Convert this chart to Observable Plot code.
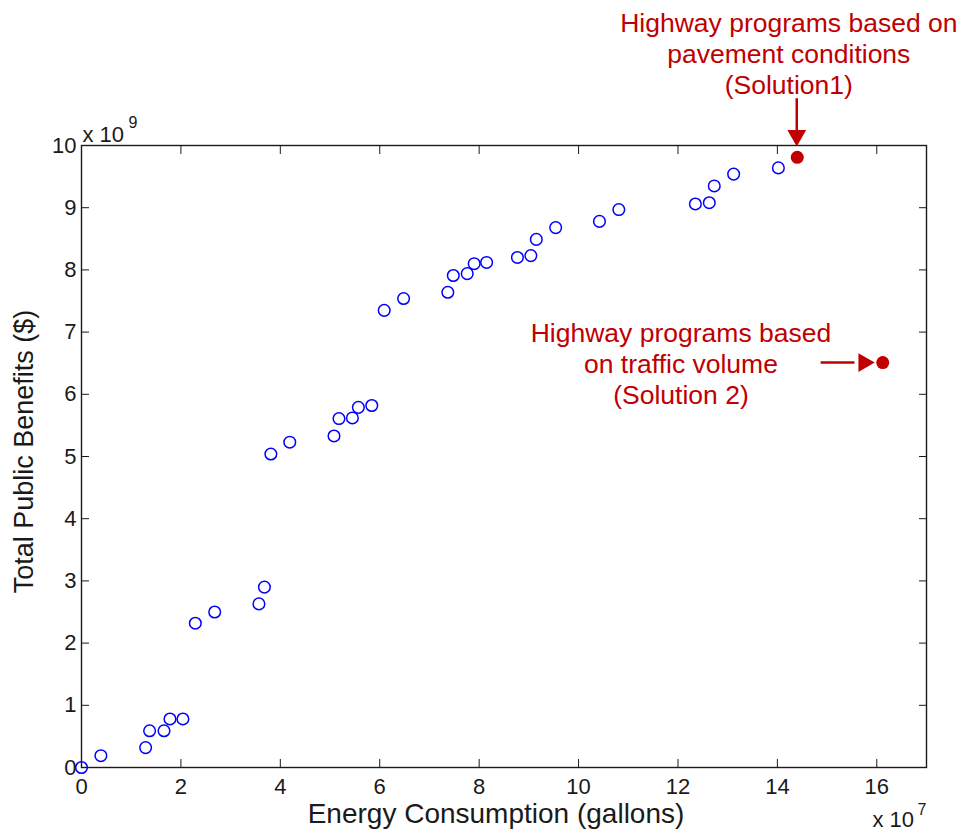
<!DOCTYPE html>
<html><head><meta charset="utf-8">
<script src="https://cdn.jsdelivr.net/npm/d3@7"></script>
<script src="https://cdn.jsdelivr.net/npm/@observablehq/plot@0.6"></script>
<style>body{margin:0;background:#fff} svg{display:block}</style>
</head><body><div id="chart"></div>
<script>
// Energy consumption (x 10^7 gallons) and total public benefits (x 10^9 $)
const energy = [0, 0.39, 1.29, 1.37, 1.66, 1.78, 2.04, 2.29, 2.68, 3.57, 3.68, 3.81, 4.19, 5.08, 5.18, 5.45, 5.57, 5.84, 6.09, 6.48, 7.37, 7.48, 7.76, 7.90, 8.15, 8.77, 9.04, 9.15, 9.54, 10.42, 10.81, 12.35, 12.63, 12.73, 13.12, 14.02];
const benefits = [0, 0.19, 0.32, 0.59, 0.59, 0.78, 0.78, 2.32, 2.50, 2.63, 2.90, 5.04, 5.23, 5.33, 5.61, 5.62, 5.79, 5.82, 7.35, 7.54, 7.64, 7.91, 7.94, 8.10, 8.12, 8.20, 8.23, 8.49, 8.68, 8.78, 8.97, 9.06, 9.08, 9.35, 9.54, 9.64];

const solutionNames = ["Solution1", "Solution 2"];
const solutionEnergy = [14.40, 16.12];
const solutionBenefits = [9.81, 6.51];

const annotationTexts = [
  "Highway programs based on\npavement conditions\n(Solution1)",
  "Highway programs based\non traffic volume\n(Solution 2)"
];
const annotationX = [14.23, 12.06];
const annotationY = [11.49, 6.50];

// arrow shafts and heads (data units)
const shaftX1 = [14.39, 14.87];
const shaftY1 = [10.76, 6.51];
const shaftX2 = [14.39, 15.55];
const shaftY2 = [10.25, 6.51];
const headX = [14.39, 15.74];
const headY = [10.16, 6.51];
const headRotate = [180, 90];

const xTicks = [0, 2, 4, 6, 8, 10, 12, 14, 16];
const yTicks = [0, 1, 2, 3, 4, 5, 6, 7, 8, 9, 10];
const xLabel = "Energy Consumption (gallons)";
const yLabel = "Total Public Benefits ($)";
const xMultiplier = ["x 10", "7"];
const yMultiplier = ["x 10", "9"];

const points = energy.map((e, i) => ({energy: e, benefits: benefits[i]}));
const solutions = solutionNames.map((n, i) => ({name: n, energy: solutionEnergy[i], benefits: solutionBenefits[i]}));
const annotations = annotationTexts.map((t, i) => ({text: t, x: annotationX[i], y: annotationY[i]}));
const shafts = shaftX1.map((v, i) => ({x1: v, y1: shaftY1[i], x2: shaftX2[i], y2: shaftY2[i]}));
const heads = headX.map((v, i) => ({x: v, y: headY[i], rotate: headRotate[i]}));

const red = "#c00000";
const ink = "#1a1a1a";
const font = "'Liberation Sans', Arial, sans-serif";

const chart = Plot.plot({
  width: 964,
  height: 840,
  marginLeft: 81,
  marginRight: 38,
  marginTop: 145,
  marginBottom: 73,
  style: {fontFamily: font, fontSize: "22px", background: "#fff", color: ink},
  x: {domain: [0, 17]},
  y: {domain: [0, 10]},
  marks: [
    Plot.frame({stroke: ink, strokeWidth: 1.4}),
    Plot.axisX(xTicks, {anchor: "bottom", tickSize: -8, tickPadding: 19, tickFormat: d3.format("d"), label: null, stroke: ink, fill: ink}),
    Plot.axisX(xTicks, {anchor: "top", tickSize: -8, tickFormat: () => "", label: null, stroke: ink}),
    Plot.axisY(yTicks, {anchor: "left", tickSize: -8, tickPadding: 13, tickFormat: d3.format("d"), label: null, stroke: ink, fill: ink}),
    Plot.axisY(yTicks, {anchor: "right", tickSize: -8, tickFormat: () => "", label: null, stroke: ink}),
    Plot.text([xLabel], {frameAnchor: "bottom", text: d => d, dy: 55, dx: -8, fontSize: 28, fill: ink}),
    Plot.text([yLabel], {frameAnchor: "left", text: d => d, rotate: -90, textAnchor: "middle", dx: -57, dy: -5, fontSize: 27, fill: ink}),
    Plot.text([yMultiplier[0]], {frameAnchor: "top-left", text: d => d, textAnchor: "start", dx: 1, dy: -19, fontSize: 22, fill: ink}),
    Plot.text([yMultiplier[1]], {frameAnchor: "top-left", text: d => d, textAnchor: "start", dx: 47, dy: -29, fontSize: 16, fill: ink}),
    Plot.text([xMultiplier[0]], {frameAnchor: "bottom-right", text: d => d, textAnchor: "start", dx: -54, dy: 59, fontSize: 22, fill: ink}),
    Plot.text([xMultiplier[1]], {frameAnchor: "bottom-right", text: d => d, textAnchor: "start", dx: -9, dy: 47, fontSize: 16, fill: ink}),
    Plot.dot(points, {x: "energy", y: "benefits", r: 5.8, stroke: "#0000ff", strokeWidth: 1.5, fill: "none"}),
    Plot.dot(solutions, {x: "energy", y: "benefits", r: 6.5, fill: red, stroke: "none"}),
    Plot.link(shafts, {x1: "x1", y1: "y1", x2: "x2", y2: "y2", stroke: red, strokeWidth: 2.5}),
    Plot.dot(heads, {x: "x", y: "y", symbol: "triangle", rotate: "rotate", r: 7, fill: red, stroke: "none"}),
    Plot.text(annotations, {x: "x", y: "y", text: "text", fontSize: 26.5, lineHeight: 1.18, fill: red, lineAnchor: "middle"})
  ]
});
document.getElementById("chart").appendChild(chart);
</script>
</body></html>
